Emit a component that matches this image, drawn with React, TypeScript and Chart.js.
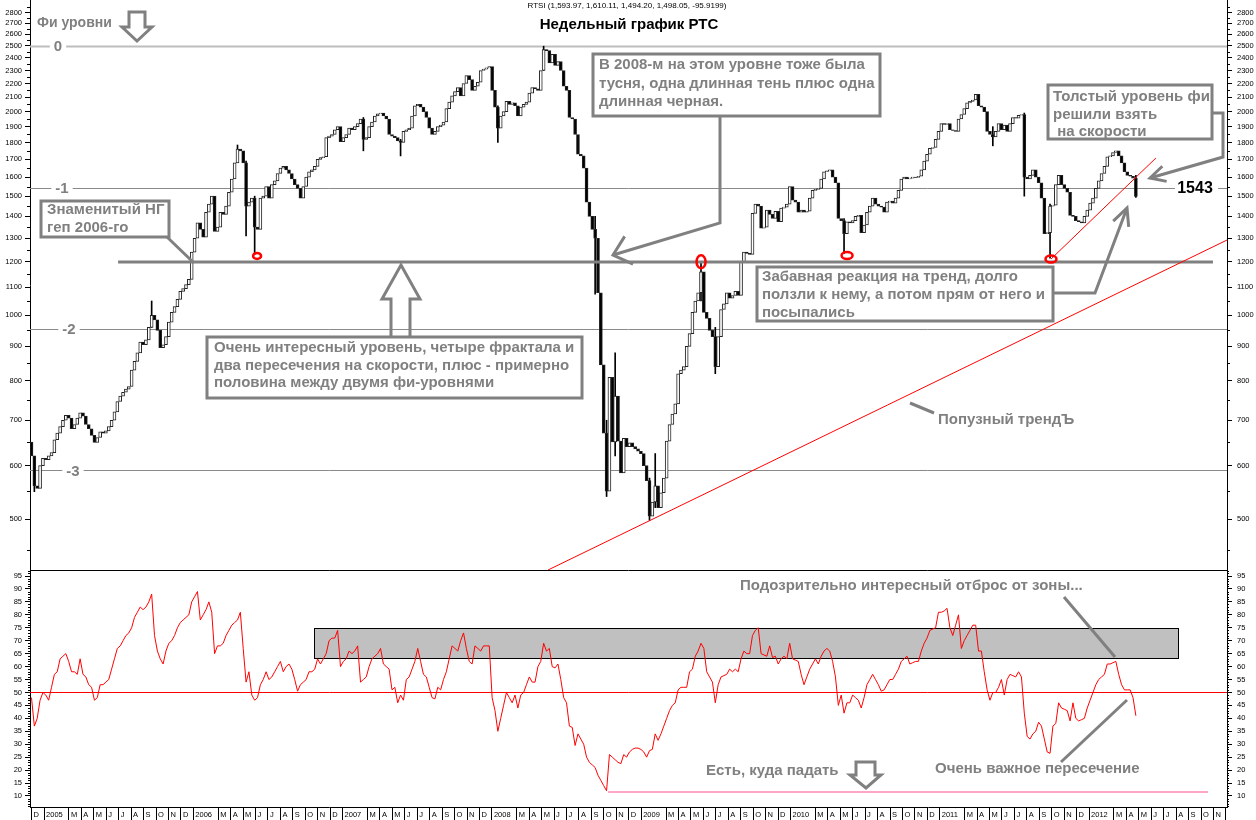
import React, { useEffect, useRef } from "react";
import { Chart, registerables } from "chart.js";

Chart.register(...registerables);

// ---------------- data ----------------
const FIRST_BAR = 2004.916; // fractional year of the first weekly bar (early Dec 2004)
const WEEK_IN_YEARS = 7 / 365.25;
const X_START = 2004.906;
const X_END = 2012.924;

const firstOpen = 650;
const weeklyClose = [
  620, 560, 555, 600, 615, 612, 620, 627, 655, 670,
  685, 700, 712, 705, 680, 690, 705, 718, 710, 690,
  680, 665, 649, 660, 673, 670, 675, 685, 700, 720,
  746, 760, 770, 778, 785, 830, 855, 880, 913, 905,
  920, 960, 1000, 985, 950, 896, 905, 930, 977, 1010,
  1030, 1056, 1085, 1095, 1110, 1130, 1240, 1300, 1370, 1340,
  1305, 1420, 1460, 1500, 1330, 1350, 1420, 1410, 1450, 1520,
  1590, 1680, 1760, 1750, 1680, 1450, 1470, 1490, 1350, 1340,
  1490, 1500, 1550, 1490, 1560, 1580, 1620, 1650, 1660, 1640,
  1620, 1590, 1560, 1540, 1490, 1550, 1600, 1630, 1640, 1660,
  1700, 1710, 1715, 1830, 1840, 1850, 1880, 1900, 1805, 1830,
  1850, 1890, 1880, 1900, 1920, 1950, 1820, 1830, 1900, 1930,
  1970, 1985, 1990, 1970, 1950, 1850, 1840, 1830, 1810, 1800,
  1870, 1880, 1890, 1970, 2040, 2050, 2030, 2000, 1960, 1890,
  1850, 1870, 1900, 1910, 1930, 2020, 2065, 2110, 2140, 2170,
  2110, 2200, 2260, 2230, 2150, 2180, 2210, 2300, 2310, 2320,
  2330, 2150, 2030, 1890, 1970, 2000, 2070, 2050, 2060, 2040,
  1970, 2030, 2050, 2065, 2130, 2170, 2160, 2150, 2300, 2470,
  2460, 2360, 2430, 2340, 2370, 2300, 2180, 2150, 1960, 1950,
  1850, 1730, 1720, 1650, 1470, 1400, 1340, 1300, 1080, 845,
  670, 550, 810, 650, 760, 652, 585, 658, 640, 648,
  640, 635, 630, 625, 600, 570, 505, 530, 560, 520,
  547, 575, 652, 690, 715, 740, 820, 830, 840, 900,
  940, 1010, 1050, 1080, 1160, 1010, 990, 950, 930, 840,
  930, 1020, 1040, 1080, 1060, 1070, 1085, 1070, 1200, 1240,
  1235, 1230, 1415, 1460, 1450, 1345, 1350, 1430, 1410, 1390,
  1425, 1375, 1440, 1445, 1460, 1550, 1480, 1470, 1420, 1430,
  1420, 1425, 1490, 1530, 1535, 1540, 1590, 1630, 1635, 1640,
  1600, 1570, 1390, 1380, 1320, 1375, 1370, 1380, 1400, 1405,
  1325, 1360, 1420, 1450, 1490, 1460, 1450, 1445, 1420, 1470,
  1475, 1465, 1490, 1530, 1590, 1600, 1590, 1595, 1600, 1598,
  1605, 1640, 1690, 1730, 1765, 1770, 1820, 1870, 1920, 1915,
  1920, 1880, 1875, 1870, 1950, 1980, 2020, 2060, 2070, 2080,
  2120, 2040, 2030, 2000, 1870, 1850, 1835, 1870, 1920, 1880,
  1910, 1870, 1920, 1960, 1955, 1975, 1980, 1600, 1590, 1610,
  1640, 1600, 1570, 1490, 1320, 1325, 1450, 1455, 1560, 1610,
  1560, 1540, 1520, 1405, 1400, 1380, 1375, 1370, 1400, 1430,
  1465, 1490, 1540, 1580, 1620, 1660, 1715, 1720, 1740, 1750,
  1720, 1680, 1630, 1610, 1605, 1594, 1498,
];

// [week index, low, high] for the bars with visible shadows
const wickBars = [
  [1, 549, 610], [42, 960, 1050], [72, 1700, 1785], [75, 1310, 1690], [78, 1230, 1500],
  [116, 1750, 1960], [129, 1720, 1820], [163, 1800, 2040], [179, 2300, 2498],
  [197, 1075, 1400], [201, 540, 700], [204, 620, 880], [216, 498, 575], [218, 520, 625],
  [234, 1050, 1195], [239, 820, 960], [284, 1235, 1390], [336, 1780, 1900],
  [347, 1500, 1990], [356, 1215, 1460], [386, 1494, 1610],
];

const weeklyRsi = [
  48, 37, 40, 47, 50, 49, 47, 52, 57, 58,
  63, 64, 65, 62, 58, 58, 57, 63, 57, 56,
  53, 52, 47, 48, 53, 53, 54, 55, 59, 63,
  67, 68, 70, 72, 73, 75, 79, 81, 83, 82,
  83, 85, 88, 72, 66, 63, 61, 66, 69, 70,
  72, 75, 77, 78, 79, 80, 85, 87, 89, 78,
  80, 82, 85, 81, 65, 68, 68, 69, 72, 74,
  76, 77, 78, 81, 67, 54, 58, 49, 47, 48,
  53, 55, 58, 55, 56, 58, 60, 62, 58, 60,
  61, 59, 55, 50.5, 53, 54, 55, 58, 58, 59,
  63, 61, 63, 65, 70, 71, 71, 74, 60, 62,
  63, 66, 65, 66, 68, 54, 55, 56, 60, 63,
  64, 65, 67, 61, 60, 59, 51, 52, 46, 49,
  47, 55, 56, 59, 62, 67, 62, 57, 56, 52,
  48, 47.5, 52, 51, 55, 58, 63, 68, 67, 66,
  70, 73, 67, 62, 61, 68, 67, 66, 68, 68,
  68, 48, 43, 35, 40, 45, 50, 48, 46, 49,
  44, 49, 50, 53, 56, 54, 54, 60, 62, 69,
  66, 67, 60, 59.5, 61, 55, 48, 46, 37, 36.5,
  29.5, 34, 32, 30, 25, 23, 22, 21, 18, 16,
  14, 12, 26, 25, 24, 23, 22.5, 26, 25, 27,
  28, 28.5, 28.5, 28, 27, 25, 27.5, 28, 34, 31.5,
  34, 37, 40, 43, 45, 46, 51, 52, 52, 52,
  58, 59, 64, 66, 69, 67, 58, 56, 54, 46,
  53, 56, 56.5, 57, 59, 58, 59, 58, 63, 66,
  65, 65, 72, 74, 75, 65, 64.5, 64, 68, 63.5,
  64, 61, 63, 64, 63, 69, 63, 62.5, 62, 57,
  53, 56, 59, 61, 63, 61, 64, 66, 67, 66,
  62, 56, 45, 49, 42, 46, 46, 49, 48, 47,
  44, 48, 53, 55, 57, 55, 53, 50.5, 51, 53,
  55, 55, 57, 59, 62, 63, 64, 61, 61.5, 62,
  62, 66, 69, 71, 74, 74.5, 75, 81, 81, 81.5,
  82.5, 75, 72, 76, 80, 67, 70, 72, 74, 76,
  76, 66, 66, 58, 51, 47, 50, 50, 52, 55,
  49, 55, 57, 56.5, 56, 58, 56, 42, 33, 32,
  34, 35, 38.5, 37, 32, 27, 26.5, 37, 38, 46,
  44, 43.5, 43, 39, 46, 40, 39, 39.5, 40, 44,
  47, 50, 53, 55, 56, 57, 61, 61, 61.5, 62,
  57, 53, 51, 51, 51, 48, 41,
];

const priceTickLabels = [500, 600, 700, 800, 900, 1000, 1100, 1200, 1300, 1400, 1500, 1600, 1700, 1800, 1900, 2000, 2100, 2200, 2300, 2400, 2500, 2600, 2700, 2800];
const rsiTickLabels = [10, 15, 20, 25, 30, 35, 40, 45, 50, 55, 60, 65, 70, 75, 80, 85, 90, 95];
const monthInitials = ["J", "F", "M", "A", "M", "J", "J", "A", "S", "O", "N", "D"];
const axisYears = [2005, 2006, 2007, 2008, 2009, 2010, 2011, 2012];

const fiboLevels = [2500, 1543, 955, 590];
const fiboNames = ["0", "-1", "-2", "-3"];
const keyLevel = 1200;
const keyLevelSpan = [2005.496, 2012.83];
const bigTrend = [[2008.376, 420.6], [2012.924, 1292]];
const smallTrend = [[2011.745, 1211], [2012.448, 1708]];
const fractalMarks = [[2006.427, 1224], [2009.401, 1200], [2010.379, 1226], [2011.745, 1211]];
const rsiMid = 50;
const rsiZone = [63.2, 75];
const rsiZoneSpan = [2006.808, 2012.596];
const rsiFloor = 11.5;
const rsiFloorSpan = [2008.778, 2012.797];
const lastBarText = "RTSI (1,593.97, 1,610.11, 1,494.20, 1,498.05, -95.9199)";

// ---------------- styles / layout ----------------
const FONT = '"Liberation Sans", Arial, Helvetica, sans-serif';
const GRAY = "#808080";
const BOLD = `bold 15px ${FONT}`;
const W = 1256;
const TOP_H = 570;
const BOT_H = 250;

const barX = (i: number) => FIRST_BAR + i * WEEK_IN_YEARS;

const monthTicks: number[] = [2004 + 11 / 12];
axisYears.forEach((yr) => {
  for (let m = 0; m < 12; m++) if (m !== 1) monthTicks.push(yr + m / 12);
});

function monthLabel(v: number) {
  if (v > 2012.9) return "";
  const yr = Math.floor(v + 1e-6);
  const m = Math.round((v - yr) * 12);
  return m === 0 ? String(yr) : monthInitials[m];
}

function text(ctx: any, s: string, x: number, y: number, font: string, color: string, align = "left") {
  ctx.font = font;
  ctx.fillStyle = color;
  ctx.textAlign = align;
  ctx.textBaseline = "middle";
  ctx.fillText(s, x, y);
}

function poly(ctx: any, pts: number[][], close = false) {
  ctx.beginPath();
  ctx.moveTo(pts[0][0], pts[0][1]);
  for (let k = 1; k < pts.length; k++) ctx.lineTo(pts[k][0], pts[k][1]);
  if (close) ctx.closePath();
  ctx.stroke();
}

function openArrow(ctx: any, pts: number[][], head: number, half: number) {
  poly(ctx, pts);
  const [tx, ty] = pts[pts.length - 1];
  const [px, py] = pts[pts.length - 2];
  const back = Math.atan2(py - ty, px - tx);
  poly(ctx, [
    [tx + head * Math.cos(back - half), ty + head * Math.sin(back - half)],
    [tx, ty],
    [tx + head * Math.cos(back + half), ty + head * Math.sin(back + half)],
  ]);
}

function noteBox(ctx: any, x1: number, y1: number, x2: number, y2: number, lines: string[], tx: number, ys: number[]) {
  ctx.fillStyle = "#ffffff";
  ctx.fillRect(x1, y1, x2 - x1, y2 - y1);
  ctx.strokeStyle = GRAY;
  ctx.lineWidth = 3;
  ctx.strokeRect(x1, y1, x2 - x1, y2 - y1);
  lines.forEach((s, k) => text(ctx, s, tx, ys[k], BOLD, GRAY));
}

const upperAnno = {
  id: "upperAnno",
  beforeDatasetsDraw(chart: any) {
    const { ctx, chartArea: a, scales } = chart;
    const y = scales.y;
    ctx.save();
    fiboLevels.forEach((v, k) => {
      const py = Math.round(y.getPixelForValue(v)) + 0.5;
      ctx.strokeStyle = k === 0 ? "#bdbdbd" : "#8a8a8a";
      ctx.lineWidth = k === 0 ? 2 : 1;
      poly(ctx, [[a.left, py], [a.right, py]]);
    });
    ctx.restore();
  },
  afterDatasetsDraw(chart: any) {
    const { ctx, chartArea: a, scales } = chart;
    const x = scales.x;
    const y = scales.y;
    const P = (t: number, v: number) => [x.getPixelForValue(t), y.getPixelForValue(v)];
    ctx.save();
    ctx.lineCap = "butt";

    // minor ticks on both price axes
    ctx.strokeStyle = "#000";
    ctx.lineWidth = 1;
    for (let v = 450; v <= 2900; v += 50) {
      if (v % 100 === 0) continue;
      const py = Math.round(y.getPixelForValue(v)) + 0.5;
      poly(ctx, [[a.left - 3, py], [a.left, py]]);
      poly(ctx, [[a.right, py], [a.right + 3, py]]);
    }

    // key 1200 level
    const ky = Math.round(y.getPixelForValue(keyLevel));
    ctx.strokeStyle = GRAY;
    ctx.lineWidth = 3;
    poly(ctx, [[x.getPixelForValue(keyLevelSpan[0]), ky], [x.getPixelForValue(keyLevelSpan[1]), ky]]);

    // trend lines
    ctx.save();
    ctx.beginPath();
    ctx.rect(a.left, a.top, a.right - a.left, a.bottom - a.top);
    ctx.clip();
    ctx.strokeStyle = "#ff0000";
    ctx.lineWidth = 1;
    poly(ctx, [P(bigTrend[0][0], bigTrend[0][1]), P(bigTrend[1][0], bigTrend[1][1])]);
    poly(ctx, [P(smallTrend[0][0], smallTrend[0][1]), P(smallTrend[1][0], smallTrend[1][1])]);
    ctx.restore();

    // fractal marks
    const radii = [[4, 3], [4.5, 6.5], [5.5, 3.5], [5.5, 3.5]];
    ctx.strokeStyle = "#ff0000";
    ctx.lineWidth = 2.5;
    fractalMarks.forEach((f, k) => {
      const [cx, cy] = P(f[0], f[1]);
      ctx.beginPath();
      ctx.ellipse(cx, cy, radii[k][0], radii[k][1], 0, 0, Math.PI * 2);
      ctx.stroke();
    });

    // fibo labels
    const labX = [58, 62, 69, 73];
    const fiboFont = `bold 15px ${FONT}`;
    fiboLevels.forEach((v, k) => {
      const py = y.getPixelForValue(v);
      ctx.font = fiboFont;
      const w = ctx.measureText(fiboNames[k]).width;
      ctx.fillStyle = "#fff";
      ctx.fillRect(labX[k] - w / 2 - 4, py - 5, w + 8, 10);
      text(ctx, fiboNames[k], labX[k], py + 1, fiboFont, GRAY, "center");
    });
    // 1543 label
    const ly = y.getPixelForValue(fiboLevels[1]);
    ctx.fillStyle = "#fff";
    ctx.fillRect(1175, ly - 6, 43, 12);
    text(ctx, "1543", 1195, ly + 1, `bold 16px ${FONT}`, "#000", "center");

    // titles
    text(ctx, lastBarText, 627, 6, `8px ${FONT}`, "#000", "center");
    text(ctx, "Недельный график РТС", 629, 25, `bold 15px ${FONT}`, "#000", "center");

    // Фи уровни + hollow arrow
    text(ctx, "Фи уровни", 37, 23, `bold 14px ${FONT}`, GRAY);
    ctx.strokeStyle = GRAY;
    ctx.lineWidth = 3;
    ctx.lineJoin = "miter";
    poly(ctx, [[129, 12], [145, 12], [145, 27], [152, 27], [137, 41], [122, 27], [129, 27]], true);

    // box 1
    noteBox(ctx, 41, 201, 169, 237, ["Знаменитый НГ", "геп 2006-го"], 47, [210, 228]);
    ctx.strokeStyle = GRAY;
    ctx.lineWidth = 3;
    poly(ctx, [[167, 237], [194, 263]]);

    // box 2
    noteBox(ctx, 593, 54, 880, 116, ["В 2008-м на этом уровне тоже была", "тусня, одна длинная тень плюс одна", "длинная черная."], 599, [65, 84, 102]);
    ctx.strokeStyle = GRAY;
    ctx.lineWidth = 3;
    openArrow(ctx, [[720, 116], [720, 223], [613, 255]], 22, 0.72);

    // box 3 + hollow up arrow
    noteBox(ctx, 207, 337, 582, 398, ["Очень интересный уровень, четыре фрактала и", "два пересечения на скорости, плюс - примерно", "половина между двумя фи-уровнями"], 214, [348, 366, 383]);
    ctx.strokeStyle = GRAY;
    ctx.lineWidth = 3;
    poly(ctx, [[391, 336], [391, 299], [382, 299], [401, 265], [420, 299], [410, 299], [410, 336]]);

    // box 4
    noteBox(ctx, 757, 267, 1053, 321, ["Забавная реакция на тренд, долго", "ползли к нему, а потом прям от него и", "посыпались"], 762, [277, 295, 313]);
    ctx.strokeStyle = GRAY;
    ctx.lineWidth = 3;
    openArrow(ctx, [[1053, 293], [1095, 293], [1127, 208]], 19, 0.45);

    // box 5
    noteBox(ctx, 1048, 85, 1212, 139, ["Толстый уровень фи", "решили взять", " на скорости"], 1053, [97, 115, 132]);
    ctx.strokeStyle = GRAY;
    ctx.lineWidth = 3;
    openArrow(ctx, [[1212, 113], [1223, 113], [1223, 157], [1150, 178]], 17, 0.48);

    // trend caption
    text(ctx, "Попузный трендЪ", 938, 420, BOLD, GRAY);
    poly(ctx, [[910, 403], [934, 413]]);

    ctx.restore();
  },
};

const lowerAnno = {
  id: "lowerAnno",
  beforeDatasetsDraw(chart: any) {
    const { ctx, chartArea: a, scales } = chart;
    const x = scales.x;
    const y = scales.y;
    ctx.save();
    // zone
    const zx1 = Math.round(x.getPixelForValue(rsiZoneSpan[0])) + 0.5;
    const zx2 = Math.round(x.getPixelForValue(rsiZoneSpan[1])) + 0.5;
    const zy1 = Math.round(y.getPixelForValue(rsiZone[1])) + 0.5;
    const zy2 = Math.round(y.getPixelForValue(rsiZone[0])) + 0.5;
    ctx.fillStyle = "#c0c0c0";
    ctx.fillRect(zx1, zy1, zx2 - zx1, zy2 - zy1);
    ctx.strokeStyle = "#000";
    ctx.lineWidth = 1;
    ctx.strokeRect(zx1, zy1, zx2 - zx1, zy2 - zy1);
    // floor
    const fy = Math.round(y.getPixelForValue(rsiFloor));
    ctx.strokeStyle = "#ffa6c9";
    ctx.lineWidth = 2;
    poly(ctx, [[x.getPixelForValue(rsiFloorSpan[0]), fy], [x.getPixelForValue(rsiFloorSpan[1]), fy]]);
    // mid line
    const my = Math.round(y.getPixelForValue(rsiMid)) + 0.5;
    ctx.strokeStyle = "#ff0000";
    ctx.lineWidth = 1;
    poly(ctx, [[a.left, my], [a.right, my]]);
    ctx.restore();
  },
  afterDatasetsDraw(chart: any) {
    const { ctx, chartArea: a, scales } = chart;
    const y = scales.y;
    const O = TOP_H;
    ctx.save();
    // top border
    ctx.strokeStyle = "#000";
    ctx.lineWidth = 1;
    poly(ctx, [[a.left, 0.5], [a.right, 0.5]]);
    // minor ticks
    for (let v = 6; v <= 97; v++) {
      if (v % 5 === 0) continue;
      const py = Math.round(y.getPixelForValue(v)) + 0.5;
      poly(ctx, [[a.left - 2, py], [a.left, py]]);
      poly(ctx, [[a.right, py], [a.right + 2, py]]);
    }
    text(ctx, "Подозрительно интересный отброс от зоны...", 740, 586 - O, BOLD, GRAY);
    text(ctx, "Есть, куда падать", 706, 771 - O, BOLD, GRAY);
    text(ctx, "Очень важное пересечение", 935, 769 - O, BOLD, GRAY);
    ctx.strokeStyle = GRAY;
    ctx.lineWidth = 3;
    poly(ctx, [[1064, 597 - O], [1115, 657 - O]]);
    poly(ctx, [[1061, 762 - O], [1127, 700 - O]]);
    poly(ctx, [[856, 762 - O], [875, 762 - O], [875, 775 - O], [881, 775 - O], [866, 788 - O], [850, 775 - O], [856, 775 - O]], true);
    ctx.restore();
  },
};

const tickFont = { family: FONT, size: 7.5 };

function yAxis(position: string, width: number, extra: any) {
  return {
    position,
    grid: { drawOnChartArea: false, drawTicks: true, tickLength: 5, tickColor: "#000", color: "#000" },
    border: { display: true, color: "#000", width: 1 },
    ticks: { font: tickFont, color: "#000", padding: position === "left" ? 3 : 5, autoSkip: false, callback: (v: any) => String(v) },
    ...extra,
    afterFit: (s: any) => {
      s.width = width;
      s.paddingTop = 0;
      s.paddingBottom = 0;
      s.paddingLeft = 0;
      s.paddingRight = 0;
    },
  };
}

export default function App() {
  const topRef = useRef<HTMLCanvasElement | null>(null);
  const botRef = useRef<HTMLCanvasElement | null>(null);

  useEffect(() => {
    const opens = weeklyClose.map((c, i) => (i === 0 ? firstOpen : weeklyClose[i - 1]));
    const bodies = weeklyClose.map((c, i) => ({ x: barX(i), y: [opens[i], c] }));
    const bodyFill = weeklyClose.map((c, i) => (c >= opens[i] ? "#ffffff" : "#000000"));
    const shadows = wickBars.map(([i, lo, hi]) => ({ x: barX(i), y: [lo, hi] }));

    const priceAxis = (pos: string, w: number) =>
      yAxis(pos, w, {
        type: "logarithmic",
        min: 420.6,
        max: 2923,
        afterBuildTicks: (s: any) => {
          s.ticks = priceTickLabels.map((v) => ({ value: v }));
        },
      });

    const top = new Chart(topRef.current as HTMLCanvasElement, {
      type: "bar",
      data: {
        datasets: [
          {
            data: bodies,
            backgroundColor: bodyFill,
            borderColor: "#222",
            borderWidth: 1,
            borderSkipped: false,
            barThickness: 3,
            grouped: false,
            yAxisID: "y",
            order: 0,
          } as any,
          {
            data: shadows,
            backgroundColor: "#000",
            borderWidth: 0,
            barThickness: 1,
            grouped: false,
            yAxisID: "y",
            order: 1,
          } as any,
        ],
      },
      options: {
        animation: false,
        responsive: false,
        maintainAspectRatio: false,
        layout: { padding: 0 },
        plugins: { legend: { display: false }, tooltip: { enabled: false } },
        scales: {
          x: { type: "linear", min: X_START, max: X_END, display: false, offset: false },
          y: priceAxis("left", 30),
          y2: priceAxis("right", 29),
        } as any,
      },
      plugins: [upperAnno],
    });

    const rsiAxis = (pos: string, w: number) =>
      yAxis(pos, w, {
        type: "linear",
        min: 5.74,
        max: 97.32,
        afterBuildTicks: (s: any) => {
          s.ticks = rsiTickLabels.map((v) => ({ value: v }));
        },
      });

    const bot = new Chart(botRef.current as HTMLCanvasElement, {
      type: "line",
      data: {
        datasets: [
          {
            data: weeklyRsi.map((v, i) => ({ x: barX(i), y: v })),
            borderColor: "#ff0000",
            borderWidth: 1,
            pointRadius: 0,
            tension: 0,
            fill: false,
            yAxisID: "y",
          },
        ],
      },
      options: {
        animation: false,
        responsive: false,
        maintainAspectRatio: false,
        layout: { padding: 0 },
        plugins: { legend: { display: false }, tooltip: { enabled: false } },
        scales: {
          x: {
            type: "linear",
            min: X_START,
            max: X_END,
            offset: false,
            position: "bottom",
            afterBuildTicks: (s: any) => {
              s.ticks = monthTicks.map((v) => ({ value: v }));
            },
            afterFit: (s: any) => {
              s.height = 13;
              s.paddingLeft = 0;
              s.paddingRight = 0;
              s.paddingTop = 0;
              s.paddingBottom = 0;
            },
            grid: { drawOnChartArea: false, drawTicks: true, tickLength: 13, tickColor: "#000", color: "#000" },
            border: { display: true, color: "#000" },
            ticks: {
              font: tickFont,
              color: "#000",
              autoSkip: false,
              maxRotation: 0,
              minRotation: 0,
              align: "start",
              labelOffset: 2,
              padding: -10,
              callback: (v: any) => monthLabel(Number(v)),
            },
          },
          y: rsiAxis("left", 30),
          y2: rsiAxis("right", 29),
        } as any,
      },
      plugins: [lowerAnno],
    });

    return () => {
      top.destroy();
      bot.destroy();
    };
  }, []);

  return (
    <div style={{ position: "absolute", left: 0, top: 0, width: W, height: TOP_H + BOT_H, background: "#fff" }}>
      <canvas ref={topRef} width={W} height={TOP_H} style={{ display: "block", position: "absolute", left: 0, top: 0 }} />
      <canvas ref={botRef} width={W} height={BOT_H} style={{ display: "block", position: "absolute", left: 0, top: TOP_H }} />
    </div>
  );
}
